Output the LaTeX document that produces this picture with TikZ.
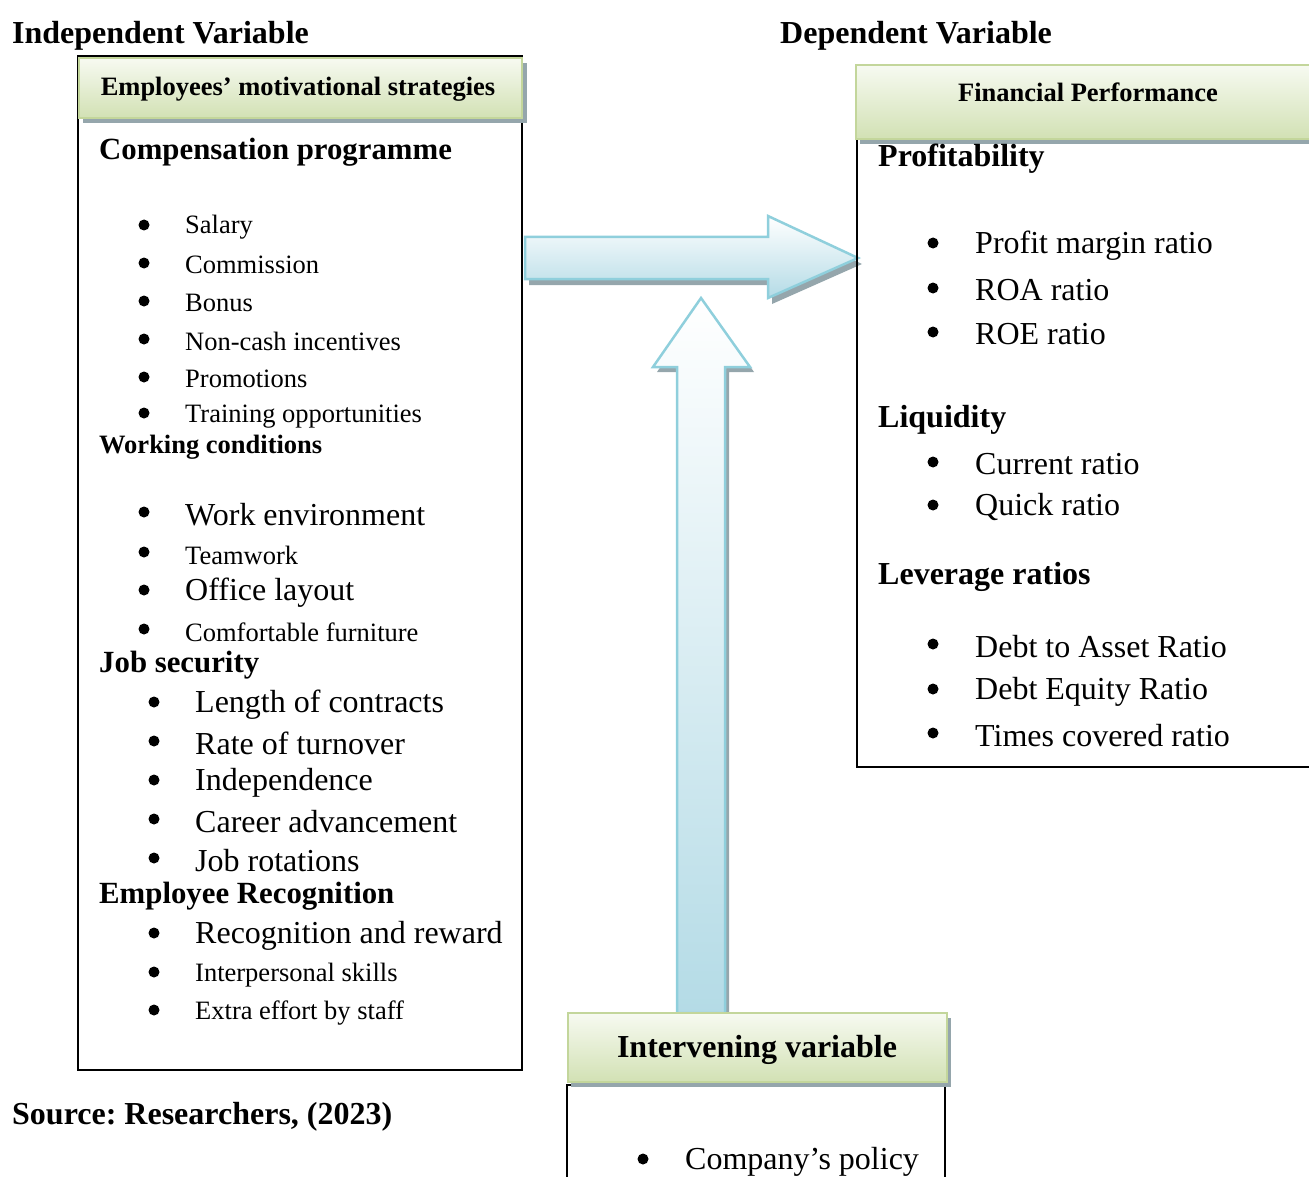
\documentclass[tikz,border=0pt]{standalone}
\usepackage{fontspec}
\setmainfont{Liberation Serif}
\frenchspacing

\definecolor{hdrtop}{HTML}{F7FAF1}
\definecolor{hdrbot}{HTML}{D2E1B4}
\definecolor{hdrline}{HTML}{C3D69B}
\definecolor{arrline}{HTML}{8FCFDC}
\definecolor{arrbot}{HTML}{B4DBE6}
\definecolor{shadowgrey}{HTML}{95A6AC}

\tikzset{
    big/.style = {anchor = west, inner sep = 0pt, yshift = -3.5pt, font = \fontsize{32}{38}\selectfont},
    small/.style = {anchor = west, inner sep = 0pt, yshift = -3pt, font = \fontsize{26.5}{32}\selectfont},
    bighead/.style = {big, font = \fontsize{32}{38}\selectfont\bfseries},
    midhead/.style = {big, font = \fontsize{30.8}{36}\selectfont\bfseries},
    smallhead/.style = {small, font = \fontsize{26.5}{32}\selectfont\bfseries},
    header/.style = {top color = hdrtop, bottom color = hdrbot, draw = hdrline, line width = 2.5pt},
    blockarrow/.style = {top color = white, bottom color = arrbot, draw = arrline, line width = 2.5pt},
    dropshadow/.style = {fill = shadowgrey}
}

\begin{document}
\begin{tikzpicture}[x = 1pt, y = -1pt]
    \useasboundingbox (0,0) rectangle (1309,1177);
    \clip (0,0) rectangle (1309,1177);

    % titles
    \node[bighead] (indep) at (12,32) {Independent Variable};
    \node[bighead] (dep) at (780,32) {Dependent Variable};
    \node[bighead] (source) at (12,1113) {Source: Researchers, (2023)};

    % block arrows
    \fill[dropshadow, shift = {(4,6)}]
    (525,237) -- (768,237) -- (768,216) -- (858,258) -- (768,298) -- (768,279) -- (525,279) -- cycle;
    \shade[blockarrow]
    (525,237) -- (768,237) -- (768,216) -- (858,258) -- (768,298) -- (768,279) -- (525,279) -- cycle;

    \fill[dropshadow, shift = {(4,5)}]
    (677,1013) -- (677,367) -- (653,367) -- (701,298) -- (750,367) -- (725,367) -- (725,1013) -- cycle;
    \shade[blockarrow]
    (677,1013) -- (677,367) -- (653,367) -- (701,298) -- (750,367) -- (725,367) -- (725,1013) -- cycle;

    % left box
    \draw[line width = 1.5pt] (78,56) rectangle (522,1070);
    \fill[dropshadow] (83,63) rectangle (527,123);
    \shade[header] (79,58) rectangle (522,118);
    \node[smallhead, anchor = center] (strat) at (298,86) {Employees’ motivational strategies};

    \node[midhead] (comp) at (99,149) {Compensation programme};
    \fill (144,225) circle (5.5);
    \node[small] (salary) at (185,224) {Salary};
    \fill (144,263) circle (5.5);
    \node[small] (commission) at (185,262) {Commission};
    \fill (144,301) circle (5.5);
    \node[small] (bonus) at (185,300) {Bonus};
    \fill (144,339) circle (5.5);
    \node[small] (noncash) at (185,338) {Non-cash incentives};
    \fill (144,377) circle (5.5);
    \node[small] (promo) at (185,376) {Promotions};
    \fill (144,413) circle (5.5);
    \node[small] (training) at (185,414) {Training opportunities};

    \node[smallhead] (work) at (99,444) {Working conditions};
    \fill (144,512) circle (5.5);
    \node[big] (env) at (185,511) {Work environment};
    \fill (144,552) circle (5.5);
    \node[small] (team) at (185,552) {Teamwork};
    \fill (144,590) circle (5.5);
    \node[big] (office) at (185,589) {Office layout};
    \fill (144,629) circle (5.5);
    \node[small] (furniture) at (185,629) {Comfortable furniture};

    \node[midhead] (jobsec) at (99,662) {Job security};
    \fill (154,702) circle (5.5);
    \node[big] (contracts) at (195,701) {Length of contracts};
    \fill (154,741) circle (5.5);
    \node[big] (turnover) at (195,740) {Rate of turnover};
    \fill (154,780) circle (5.5);
    \node[big] (independence) at (195,779) {Independence};
    \fill (154,819) circle (5.5);
    \node[big] (career) at (195,818) {Career advancement};
    \fill (154,858) circle (5.5);
    \node[big] (rotations) at (195,857) {Job rotations};

    \node[midhead] (recog) at (99,893) {Employee Recognition};
    \fill (154,933) circle (5.5);
    \node[big] (reward) at (195,932) {Recognition and reward};
    \fill (154,972) circle (5.5);
    \node[small] (interpers) at (195,972) {Interpersonal skills};
    \fill (154,1010) circle (5.5);
    \node[small] (effort) at (195,1010) {Extra effort by staff};

    % right box
    \draw[line width = 1.5pt] (1320,767) -- (857,767) -- (857,100);
    \fill[dropshadow] (860,70) rectangle (1320,144);
    \shade[header] (856,65) rectangle (1320,139);
    \node[smallhead, anchor = center] (finperf) at (1088,89) {Financial Performance};

    \node[bighead] (profit) at (878,155) {Profitability};
    \fill (933,243) circle (5.5);
    \node[big] (margin) at (975,242) {Profit margin ratio};
    \fill (933,288) circle (5.5);
    \node[big] (roa) at (975,287) {ROA ratio};
    \fill (933,332) circle (5.5);
    \node[big] (roe) at (975,331) {ROE ratio};

    \node[bighead] (liquid) at (878,416) {Liquidity};
    \fill (933,462) circle (5.5);
    \node[big] (current) at (975,461) {Current ratio};
    \fill (933,505) circle (5.5);
    \node[big] (quick) at (975,503) {Quick ratio};

    \node[bighead] (lever) at (878,573) {Leverage ratios};
    \fill (933,644) circle (5.5);
    \node[big] (debtasset) at (975,643) {Debt to Asset Ratio};
    \fill (933,689) circle (5.5);
    \node[big] (debtequity) at (975,688) {Debt Equity Ratio};
    \fill (933,733) circle (5.5);
    \node[big] (times) at (975,732) {Times covered ratio};

    % intervening box
    \fill[white] (567,1085) rectangle (945,1190);
    \draw[line width = 1.5pt] (567,1190) -- (567,1085) -- (945,1085) -- (945,1190);
    \fill[dropshadow] (571,1018) rectangle (951,1087);
    \shade[header] (568,1013) rectangle (947,1082);
    \node[bighead, anchor = center] (interv) at (757,1046) {Intervening variable};
    \fill (643,1159) circle (5.5);
    \node[big] (policy) at (685,1158) {Company’s policy};
\end{tikzpicture}
\end{document}
